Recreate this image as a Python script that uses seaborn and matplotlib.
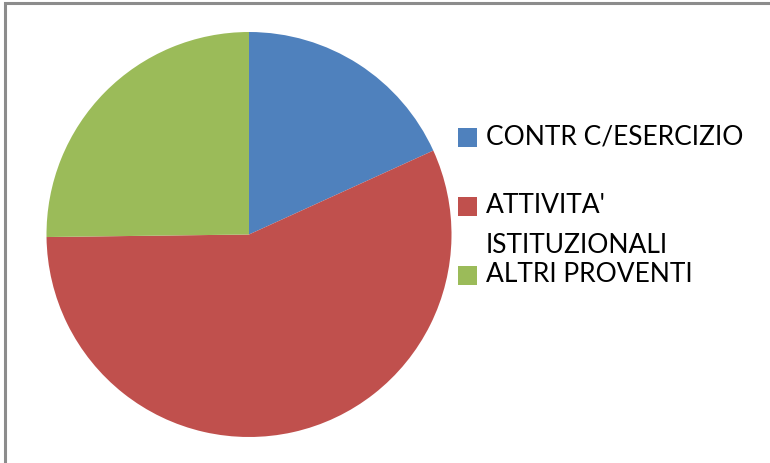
import matplotlib
matplotlib.use("Agg")
import matplotlib.pyplot as plt
import seaborn as sns
from matplotlib.patches import Rectangle

# pie data (percent of total)
labels = ["CONTR C/ESERCIZIO", "ATTIVITA'\nISTITUZIONALI", "ALTRI PROVENTI"]
values = [18.2, 56.6, 25.2]
colors = ["#4F81BD", "#C0504D", "#9BBB59"]

sns.set_style("white")
plt.rcParams['font.family'] = ['Lato', 'DejaVu Sans']

W, H = 770, 464
fig = plt.figure(figsize=(W / 100, H / 100), dpi=100)

# grey chart-area border (top and left visible)
fig.patches.append(Rectangle((5 / W, -0.1), 1.2, 1 - 4 / H + 0.1, transform=fig.transFigure,
                             fill=False, edgecolor="#8c8c8c", linewidth=2.2))

cx, cy, r = 249, 235.5, 202.5
ax = fig.add_axes([(cx - r) / W, (H - cy - r) / H, 2 * r / W, 2 * r / H])
ax.pie(values, colors=sns.color_palette(colors), startangle=90, counterclock=False,
       wedgeprops={"linewidth": 0})
ax.set_xlim(-1, 1)
ax.set_ylim(-1, 1)
ax.set_aspect("equal")
ax.axis("off")

# legend, laid out like the original
marker_tops = [129, 198, 267]
text_base = [145, 213, 282]
for lab, col, mt, tb in zip(labels, colors, marker_tops, text_base):
    fig.patches.append(Rectangle((458 / W, (H - mt - 19) / H), 19 / W, 19 / H,
                                 transform=fig.transFigure, facecolor=col, edgecolor="none"))
    lines = lab.split("\n")
    for i, ln in enumerate(lines):
        fig.text(486 / W, (H - tb - 40 * i) / H, ln, fontsize=19, va="baseline", ha="left",
                 color="black")

fig.savefig("out.png", dpi=100)
